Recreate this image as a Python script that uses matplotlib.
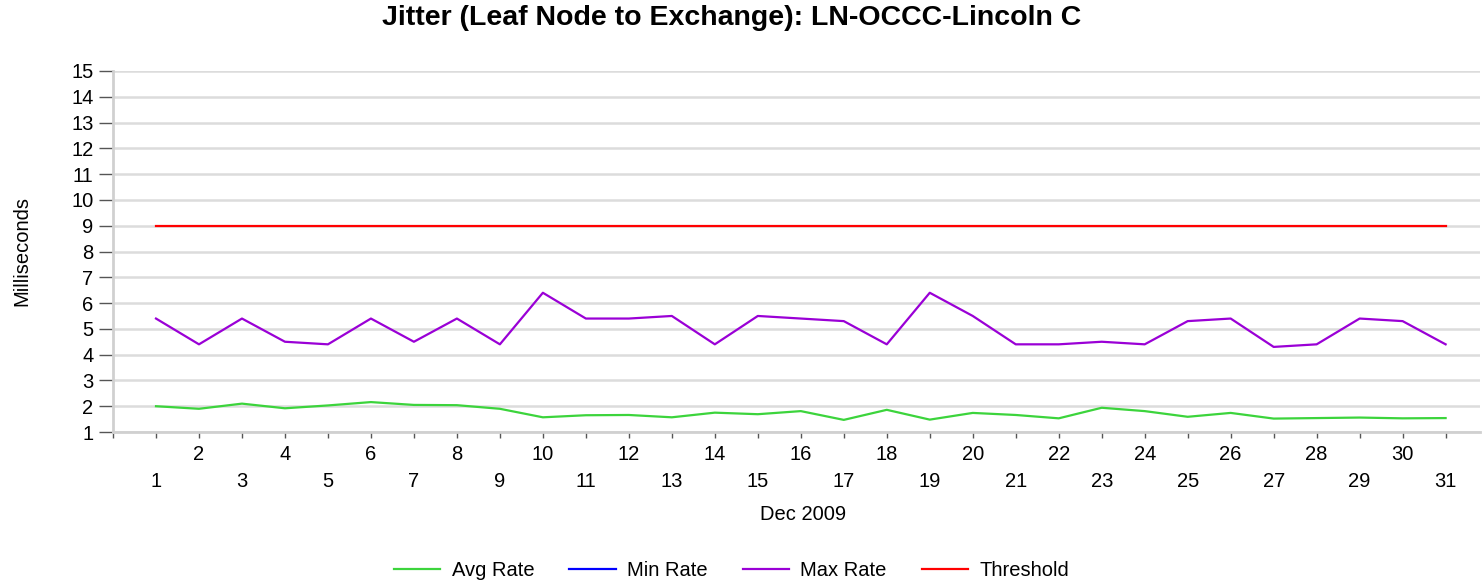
import matplotlib
matplotlib.use("Agg")
import matplotlib.pyplot as plt
from matplotlib.ticker import FixedLocator, FixedFormatter

plt.rcParams['font.family'] = ['Liberation Sans', 'DejaVu Sans']

days = list(range(1, 32))
avg_rate = [2.00, 1.90, 2.10, 1.92, 2.03, 2.16, 2.05, 2.04, 1.90, 1.57,
            1.65, 1.66, 1.57, 1.75, 1.69, 1.81, 1.47, 1.86, 1.48, 1.74,
            1.66, 1.53, 1.94, 1.81, 1.59, 1.74, 1.52, 1.54, 1.56, 1.53, 1.54]
min_rate = [0.0] * 31
max_rate = [5.4, 4.4, 5.4, 4.5, 4.4, 5.4, 4.5, 5.4, 4.4, 6.4,
            5.4, 5.4, 5.5, 4.4, 5.5, 5.4, 5.3, 4.4, 6.4, 5.5,
            4.4, 4.4, 4.5, 4.4, 5.3, 5.4, 4.3, 4.4, 5.4, 5.3, 4.4]
threshold = [9.0] * 31
y_ticks = list(range(1, 16))
title = "Jitter (Leaf Node to Exchange): LN-OCCC-Lincoln C"
x_label = "Dec 2009"
y_label = "Milliseconds"

W, H = 1482, 582
fig = plt.figure(figsize=(W / 100, H / 100), dpi=100)
ax = fig.add_axes([113 / W, 1 - 432 / H, (1480 - 113) / W, (432 - 71) / H])

ax.plot(days, avg_rate, color='#3cd43c', lw=1.6, label='Avg Rate')
ax.plot(days, min_rate, color='#0000ff', lw=1.6, label='Min Rate')
ax.plot(days, max_rate, color='#9a00d6', lw=1.6, label='Max Rate')
ax.plot(days, threshold, color='#ff0000', lw=1.6, label='Threshold')

ax.set_xlim(0, 31.8)
ax.set_ylim(1, 15)
ax.set_yticks(y_ticks)
ax.set_yticklabels([str(v) for v in y_ticks])
ax.grid(axis='y', color='#dcdcdc', lw=1.8)
ax.set_axisbelow(True)

even = [d for d in days if d % 2 == 0]
odd = [d for d in days if d % 2 == 1]
ax.xaxis.set_major_locator(FixedLocator(even))
ax.set_xticklabels([str(d) for d in even])
ax.xaxis.set_minor_locator(FixedLocator([0] + odd))
ax.xaxis.set_minor_formatter(FixedFormatter([''] + [str(d) for d in odd]))
ax.tick_params(axis='x', which='both', length=4, width=1, color='#555555',
               labelsize=14.5, labelcolor='black')
ax.tick_params(axis='x', which='major', pad=5.5)
ax.tick_params(axis='x', which='minor', pad=25)
ax.tick_params(axis='y', length=10, width=1, color='#555555', labelsize=14.5, pad=4)

for s in ['top', 'right']:
    ax.spines[s].set_visible(False)
ax.spines['left'].set_color('#d0d0d0')
ax.spines['left'].set_linewidth(2)
ax.spines['bottom'].set_color('#d0d0d0')
ax.spines['bottom'].set_linewidth(2)

ax.set_xlabel(x_label, fontsize=14.5)
ax.xaxis.label.set_va('center')
ax.xaxis.set_label_coords(0.505, (432 - 514) / (432 - 71))
ax.set_ylabel(y_label, fontsize=14.5)
ax.yaxis.label.set_va('center')
ax.yaxis.set_label_coords((22 - 113) / (1480 - 113), 0.5)
fig.text(0.494, 1 - 18 / H, title, fontsize=20.5, fontweight='bold',
         ha='center', va='center')

fig.legend(loc='center', bbox_to_anchor=(0.4936, 1 - 571 / H), ncol=4, frameon=False,
           fontsize=14.5, handlelength=2.3, columnspacing=1.75, handletextpad=0.55)

fig.savefig('out.png', dpi=100)
